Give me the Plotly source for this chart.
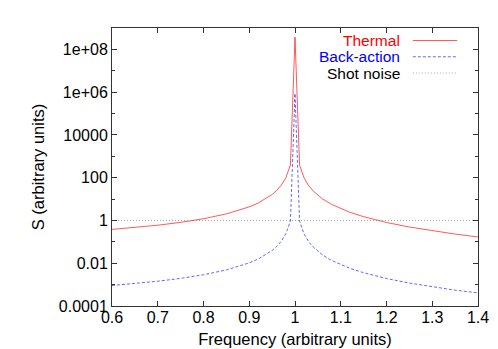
import plotly.graph_objects as go

# frequency samples (arbitrary units)
freq = [0.6, 0.65, 0.7, 0.75, 0.8, 0.85, 0.88, 0.9, 0.92, 0.94, 0.95, 0.96,
        0.97, 0.98, 0.99, 1.0, 1.01, 1.02, 1.03, 1.04, 1.05, 1.06, 1.08,
        1.1, 1.12, 1.15, 1.2, 1.25, 1.3, 1.35, 1.4]

thermal = [0.381, 0.468, 0.600, 0.815, 1.204, 2.026, 3.065, 4.32, 6.61,
           11.5, 16.4, 25.4, 44.7, 99.5, 394, 3.7e8, 386, 95.6, 42.1, 23.4,
           14.9, 10.2, 5.63, 3.54, 2.41, 1.50, 0.806, 0.493, 0.328, 0.231,
           0.169]

back_action = [9.1e-4, 1.12e-3, 1.44e-3, 1.96e-3, 2.89e-3, 4.86e-3, 7.36e-3,
               0.0104, 0.0159, 0.0276, 0.0394, 0.0609, 0.107, 0.239, 0.946,
               8.7e5, 0.926, 0.229, 0.101, 0.0562, 0.0356, 0.0245, 0.0135,
               8.49e-3, 5.78e-3, 3.6e-3, 1.93e-3, 1.18e-3, 7.9e-4, 5.5e-4,
               4.1e-4]

shot_x = [0.6, 1.4]
shot_noise = [1, 1]

series_names = ["Thermal", "Back-action", "Shot noise"]
series_colors = ["rgba(255,0,0,0.65)", "rgba(0,0,255,0.6)", "rgba(110,110,110,0.6)"]
text_colors = ["#ff0000", "#0000ff", "#000000"]
series_dash = ["solid", "3px,2px", "1px,2px"]

y_major = [1e-4, 1e-2, 1, 1e2, 1e4, 1e6, 1e8]
y_major_text = ["0.0001", "0.01", "1", "100", "10000", "1e+06", "1e+08"]
y_minor = [1e-3, 1e-1, 1e1, 1e3, 1e5, 1e7, 1e9]
x_ticks = [0.6, 0.7, 0.8, 0.9, 1.0, 1.1, 1.2, 1.3, 1.4]
x_text = ["0.6", "0.7", "0.8", "0.9", "1", "1.1", "1.2", "1.3", "1.4"]

FONT = "Liberation Sans, Arial, sans-serif"
FS = 16

fig = go.Figure()
fig.add_trace(go.Scatter(x=freq, y=thermal, mode="lines", name=series_names[0],
                         line=dict(color=series_colors[0], width=1, dash=series_dash[0])))
fig.add_trace(go.Scatter(x=freq, y=back_action, mode="lines", name=series_names[1],
                         line=dict(color=series_colors[1], width=1, dash=series_dash[1])))
fig.add_trace(go.Scatter(x=shot_x, y=shot_noise, mode="lines", name=series_names[2],
                         line=dict(color=series_colors[2], width=1, dash=series_dash[2])))

# gnuplot style key: right aligned text, line sample on the right
for i, name in enumerate(series_names):
    yp = 0.955 - i * 0.0585
    fig.add_annotation(x=0.79, y=yp, xref="paper", yref="paper", text=name,
                       showarrow=False, xanchor="right", yanchor="middle",
                       borderpad=0,
                       font=dict(family=FONT, size=15.5, color=text_colors[i]))
    fig.add_shape(type="line", xref="paper", yref="paper",
                  x0=0.822, x1=0.943, y0=yp, y1=yp,
                  line=dict(color=series_colors[i], width=1, dash=series_dash[i]))

axis_common = dict(showline=True, linecolor="#333333", linewidth=1, mirror="ticks",
                   ticks="inside", tickcolor="#333333", showgrid=False, zeroline=False,
                   tickfont=dict(family=FONT, size=FS, color="#000000"))

fig.update_layout(
    width=498, height=349,
    margin=dict(l=104, r=28, t=20, b=51),
    paper_bgcolor="white", plot_bgcolor="white",
    showlegend=False,
    font=dict(family=FONT, size=FS, color="#000000"),
    xaxis=dict(range=[0.6, 1.4], tickvals=x_ticks, ticktext=x_text, ticklen=5,
               ticklabelstandoff=-3,
               title=dict(text="Frequency (arbitrary units)", standoff=8,
                          font=dict(family=FONT, size=16.5)),
               **axis_common),
    yaxis=dict(type="log", range=[-4, 9], tickvals=y_major, ticktext=y_major_text,
               ticklen=5, minor=dict(tickvals=y_minor, ticklen=3, ticks="inside",
                                     tickcolor="#333333"),
               title=dict(text="S (arbitrary units)", standoff=10,
                          font=dict(family=FONT, size=16.5)),
               **axis_common),
)

fig.write_html("out.html")
